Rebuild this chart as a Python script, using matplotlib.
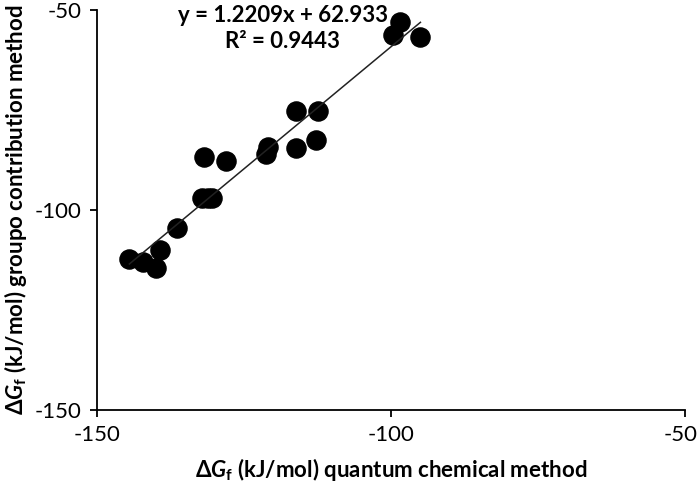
import numpy as np
import matplotlib
matplotlib.use("Agg")
import matplotlib.pyplot as plt
import matplotlib.transforms as mtransforms

plt.rcParams['font.family'] = ['Lato', 'DejaVu Sans']
plt.rcParams['axes.unicode_minus'] = False
plt.rcParams['mathtext.fontset'] = 'custom'
plt.rcParams['mathtext.rm'] = 'Lato'
plt.rcParams['mathtext.it'] = 'Lato:italic'
plt.rcParams['mathtext.bf'] = 'Lato:bold'
plt.rcParams['mathtext.bfit'] = 'Lato:bold:italic'

# dG_f values (kJ/mol)
quantum = [-98.5, -99.7, -95.0, -116.2, -112.4, -120.9, -121.3, -116.2, -112.8,
           -131.8, -128.1, -132.2, -131.1, -130.4, -136.4, -144.5, -142.1, -140.0, -139.3]
group = [-52.9, -56.3, -56.7, -75.3, -75.3, -84.2, -86.0, -84.4, -82.5,
         -86.7, -87.8, -97.1, -97.1, -97.1, -104.6, -112.3, -112.9, -114.6, -110.0]

slope = 1.2209
intercept = 62.933
r2 = 0.9443

fig = plt.figure(figsize=(6.99, 4.82), dpi=100)
ax = fig.add_axes([0.1388, 0.1494, 0.8412, 0.8296])

ax.scatter(quantum, group, s=190, color='black', zorder=2)

xs = np.array([min(quantum), max(quantum)])
ax.plot(xs, slope * xs + intercept, color='#222222', linewidth=1.1, zorder=3)

ax.text(-118.4, -54.6, 'y = %.4fx + %.3f\nR² = %.4f' % (slope, intercept, r2),
        ha='center', va='center', fontsize=16, fontweight='bold', linespacing=1.25)

ax.set_xlim(-150, -50)
ax.set_ylim(-150, -50)
ax.set_xticks([-150, -100, -50])
ax.set_yticks([-150, -100, -50])
ax.tick_params(direction='out', length=5, width=1.3, labelsize=16, pad=6)

# nudge the last x label so it stays inside the figure
last = ax.get_xticklabels()[-1]
last.set_transform(last.get_transform() +
                   mtransforms.ScaledTranslation(-3 / 72, 0, fig.dpi_scale_trans))

for side in ['top', 'right']:
    ax.spines[side].set_visible(False)
for side in ['left', 'bottom']:
    ax.spines[side].set_linewidth(1.3)

ax.set_xlabel('Δ$\\mathbfit{G}_\\mathbf{f}$ (kJ/mol) quantum chemical method',
              fontsize=16, fontweight='bold', labelpad=8)
ax.set_ylabel('Δ$\\mathbfit{G}_\\mathbf{f}$ (kJ/mol) groupo contribution method',
              fontsize=16, fontweight='bold', labelpad=4)

fig.savefig('out.png', dpi=100)
